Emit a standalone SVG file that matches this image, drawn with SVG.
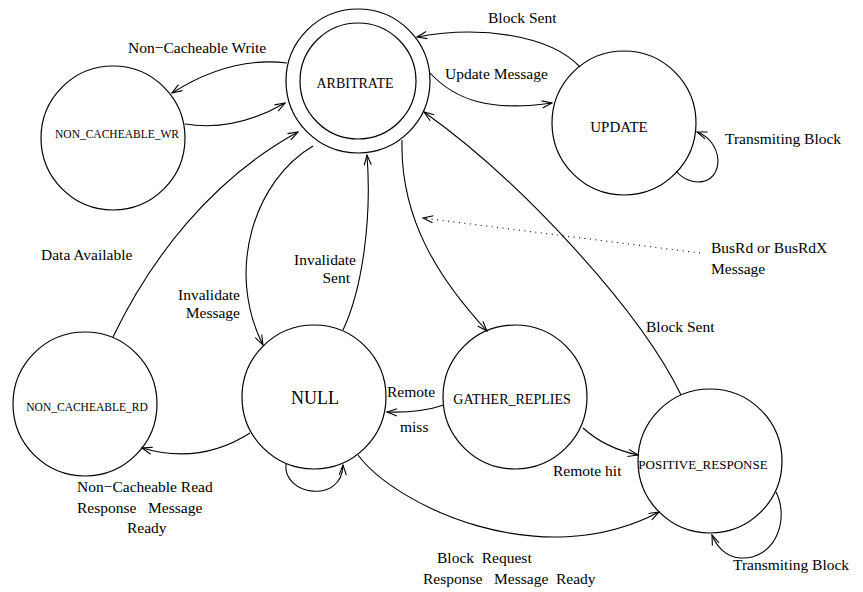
<svg xmlns="http://www.w3.org/2000/svg" width="863" height="592" viewBox="0 0 863 592" font-family="'Liberation Serif', 'DejaVu Serif', serif">
  <style>
    .state { fill: none; stroke: #000; stroke-width: 1.2; }
    .edge { fill: none; stroke: #000; stroke-width: 1.1; marker-end: url(#stick); }
    .dotted { fill: none; stroke: #000; stroke-width: 1.1; stroke-dasharray: 1 4.5; marker-end: url(#stick); }
    text { font-family: 'Liberation Serif', 'DejaVu Serif', serif; fill: #000; white-space: pre; }
    .lbl { font-size: 15.5px; }
    .name { text-anchor: middle; }
  </style>
  <defs>
    <!-- open stick arrowhead, tip at the path end -->
    <marker id="stick" viewBox="-11 -5 13 10" refX="0" refY="0" markerWidth="13" markerHeight="10" markerUnits="userSpaceOnUse" orient="auto">
      <path d="M-10,-3.6 L0,0 L-10,3.6" fill="none" stroke="#000" stroke-width="1.1"/>
    </marker>
  </defs>
  <rect width="863" height="592" fill="#fff"/>

  <!-- states -->
  <g id="arbitrate">
    <circle class="state" cx="358" cy="81" r="72"/>
    <circle class="state" cx="358" cy="81" r="58"/>
    <text class="name" x="355" y="88" font-size="14">ARBITRATE</text>
  </g>
  <g id="non-cacheable-wr">
    <circle class="state" cx="113" cy="138" r="72"/>
    <text class="name" x="117" y="138" font-size="11.5">NON_CACHEABLE_WR</text>
  </g>
  <g id="update">
    <circle class="state" cx="624" cy="123" r="72"/>
    <text class="name" x="619" y="132" font-size="15">UPDATE</text>
  </g>
  <g id="non-cacheable-rd">
    <circle class="state" cx="85" cy="404" r="72"/>
    <text class="name" x="87" y="411" font-size="11.5">NON_CACHEABLE_RD</text>
  </g>
  <g id="null">
    <circle class="state" cx="314" cy="397" r="72"/>
    <text class="name" x="315" y="404" font-size="18">NULL</text>
  </g>
  <g id="gather-replies">
    <circle class="state" cx="515" cy="397" r="72"/>
    <text class="name" x="512" y="404" font-size="14">GATHER_REPLIES</text>
  </g>
  <g id="positive-response">
    <circle class="state" cx="710" cy="461" r="72"/>
    <text class="name" x="703" y="469" font-size="13">POSITIVE_RESPONSE</text>
  </g>

  <!-- transitions -->
  <g id="connectors">
    <path class="edge" d="M287,63 Q230,56 172,93"/>
    <path class="edge" d="M185,124 Q235,132 285,103"/>
    <path class="edge" d="M430,73 C455,100 490,112 552,103"/>
    <path class="edge" d="M580,67 C550,35 480,25 417,37"/>
    <path class="edge" d="M676,171 C690,188 718,186 718,160 C717,146 708,136 697,132"/>
    <path class="edge" d="M313,146 C255,180 225,270 263,345"/>
    <path class="edge" d="M343,330 C362,290 372,220 367,155"/>
    <path class="edge" d="M402,140 C400,220 440,280 487,331"/>
    <path class="edge" d="M444,405 Q420,413 387,412"/>
    <path class="edge" d="M250,433 Q200,465 142,448"/>
    <path class="edge" d="M113,337 C150,260 210,180 298,132"/>
    <path class="edge" d="M286,464 C282,495 342,505 343,465"/>
    <path class="edge" d="M358,455 C395,505 540,575 659,512"/>
    <path class="edge" d="M583,428 Q605,448 638,455"/>
    <path class="edge" d="M681,395 C640,310 520,180 424,112"/>
    <path class="edge" d="M776,492 C790,520 775,560 740,558 C725,557 716,545 712,535"/>
    <path class="dotted" d="M700,253 L423,218"/>
  </g>

  <!-- transition labels -->
  <g id="labels" class="lbl">
    <text x="128" y="53">Non−Cacheable Write</text>
    <text x="488" y="23">Block Sent</text>
    <text x="445" y="79">Update Message</text>
    <text x="725" y="144">Transmiting Block</text>
    <text x="41" y="260">Data Available</text>
    <text x="240" y="300" text-anchor="end">Invalidate</text>
    <text x="240" y="318" text-anchor="end">Message</text>
    <text x="356" y="265" text-anchor="end">Invalidate</text>
    <text x="350" y="283" text-anchor="end">Sent</text>
    <text x="387" y="397">Remote</text>
    <text x="400" y="432">miss</text>
    <text x="711" y="253">BusRd or BusRdX</text>
    <text x="711" y="274">Message</text>
    <text x="646" y="332">Block Sent</text>
    <text x="553" y="476">Remote hit</text>
    <text x="77" y="492">Non−Cacheable Read</text>
    <text x="77" y="513">Response   Message</text>
    <text x="127" y="533">Ready</text>
    <text x="437" y="563">Block  Request</text>
    <text x="423" y="584">Response   Message  Ready</text>
    <text x="733" y="570">Transmiting Block</text>
  </g>
</svg>
